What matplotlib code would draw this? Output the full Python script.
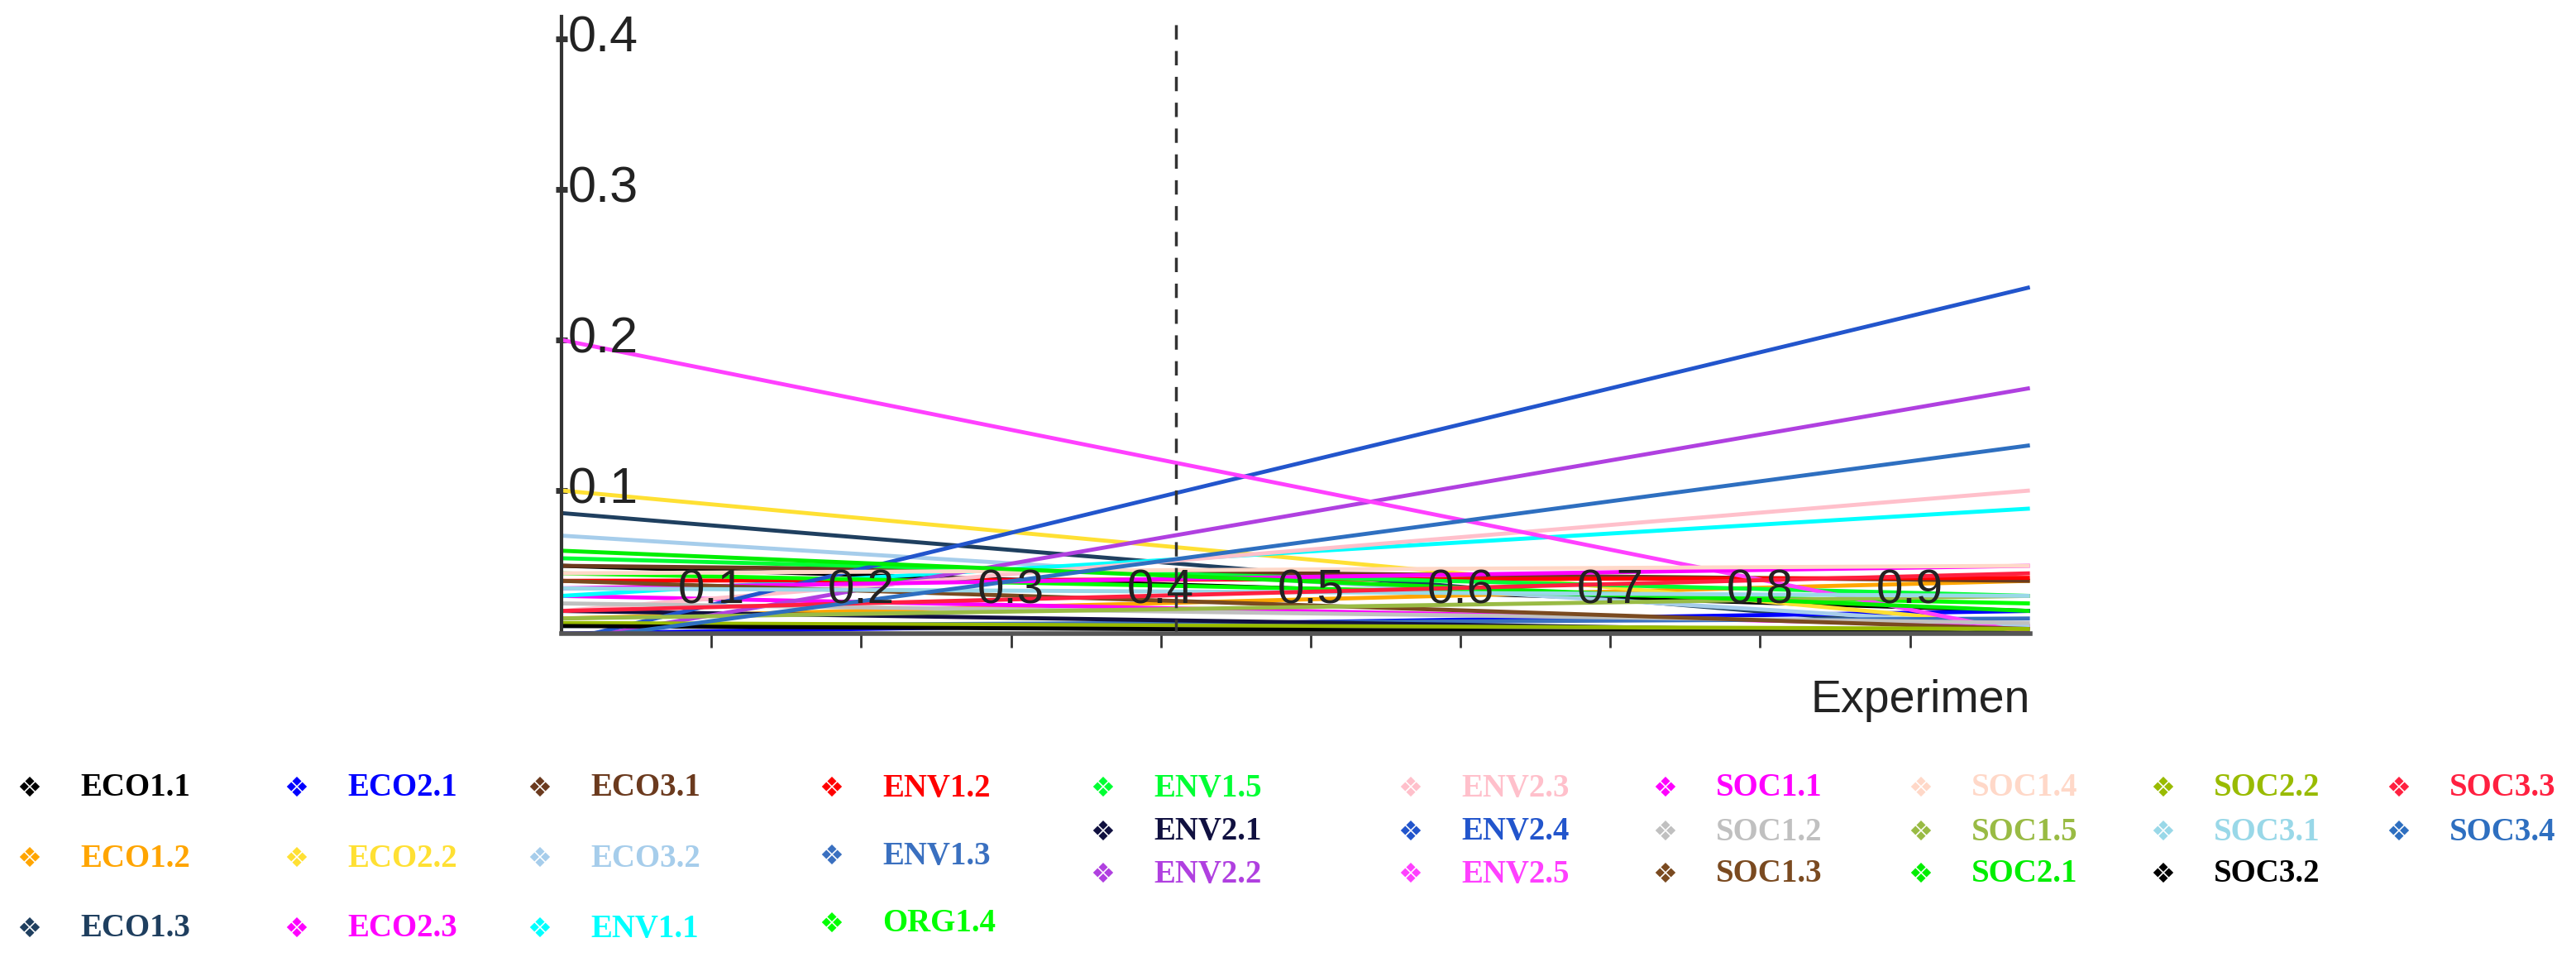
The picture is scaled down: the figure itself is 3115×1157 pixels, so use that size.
import matplotlib
matplotlib.use('Agg')
import matplotlib.pyplot as plt

# series: name, value at x=0, value at x=0.98, colour
names = ['ECO1.1', 'ECO1.2', 'ECO1.3', 'ECO2.1', 'ECO2.2', 'ECO2.3', 'ECO3.1', 'ECO3.2', 'ENV1.1',
         'ENV1.2', 'ENV1.3', 'ORG1.4', 'ENV1.5', 'ENV2.1', 'ENV2.2', 'ENV2.3', 'ENV2.4', 'ENV2.5',
         'SOC1.1', 'SOC1.2', 'SOC1.3', 'SOC1.4', 'SOC1.5', 'SOC2.1', 'SOC2.2', 'SOC3.1', 'SOC3.2',
         'SOC3.3', 'SOC3.4']
start_vals = [0.050, 0.015, 0.085, 0.005, 0.100, 0.030, 0.050, 0.070, 0.030,
              0.040, 0.010, 0.045, 0.055, 0.020, 0.000, 0.020, 0.000, 0.200,
              0.035, 0.025, 0.040, 0.045, 0.015, 0.060, 0.012, 0.035, 0.010,
              0.020, 0.000]
end_vals = [0.020, 0.040, 0.005, 0.020, 0.010, 0.010, 0.040, 0.010, 0.088,
            0.042, 0.015, 0.025, 0.030, 0.005, 0.168, 0.100, 0.235, 0.005,
            0.050, 0.012, 0.008, 0.050, 0.030, 0.020, 0.008, 0.030, 0.005,
            0.045, 0.130]
colors = ['#000000', '#FFA500', '#1F3F5F', '#0000FF', '#FFE033', '#FF00FF', '#6B3A1E', '#A6CDEB', '#00FFFF',
          '#FF0000', '#3A70C0', '#00FF00', '#00FF33', '#101040', '#B040E0', '#FFC0CB', '#2255CC', '#FF40FF',
          '#FF00FF', '#C0C0C0', '#7A4A20', '#FFD8C8', '#99BB44', '#00EE00', '#99BB00', '#99D8E8', '#000000',
          '#FF2040', '#2E6FC0']
x_span = [0.0, 0.98]
x_ticks = [0.1, 0.2, 0.3, 0.4, 0.5, 0.6, 0.7, 0.8, 0.9]
y_ticks = [0.1, 0.2, 0.3, 0.4]
current_x = 0.41

tick_font = ['Liberation Sans Narrow', 'Liberation Sans']

fig = plt.figure(figsize=(31.15, 11.57), dpi=100)
ax = fig.add_axes([0.218, 0.338, 0.570, 0.645])

for n, s, e, c in zip(names, start_vals, end_vals, colors):
    ax.plot(x_span, [s, e], color=c, linewidth=3.5, solid_capstyle='butt')

ax.axvline(current_x, color='#333333', linestyle='--', linewidth=2.5, dashes=(5, 4))

ax.set_xlim(0, 0.98)
ax.set_ylim(0.005, 0.415)
for sp in ['top', 'right']:
    ax.spines[sp].set_visible(False)
ax.spines['left'].set_linewidth(3)
ax.spines['left'].set_color('#333333')
ax.spines['bottom'].set_linewidth(4)
ax.spines['bottom'].set_color('#555555')

ax.set_xticks(x_ticks)
ax.set_xticklabels([])
ax.tick_params(axis='x', direction='out', length=12, width=2, color='#333333')
ax.set_yticks(y_ticks)
ax.set_yticklabels([])
ax.tick_params(axis='y', direction='inout', length=10, width=5, color='#333333')

for t in x_ticks:
    ax.text(t, 0.033, f'{t:.1f}', ha='center', va='center', fontsize=42,
            family=tick_font, color='#222222')
for t in y_ticks:
    ax.text(0.004, t, f'{t:.1f}', ha='left', va='center', fontsize=44,
            family=tick_font, color='#222222')
ax.text(0.98, -0.025, 'Experimen', ha='right', va='top', fontsize=40,
        family=tick_font, color='#222222', clip_on=False)

# legend, laid out in columns as in the original
col_x = [35, 358, 652, 1005, 1333, 1705, 2013, 2322, 2615, 2900]
rows_std = [953, 1038, 1123]
rows_c4 = [953, 1035, 1117]
rows_tight = [953, 1006, 1057]
col_rows = [rows_std, rows_std, rows_std, rows_c4, rows_tight,
            rows_tight, rows_tight, rows_tight, rows_tight, rows_tight]
col_members = [['ECO1.1', 'ECO1.2', 'ECO1.3'], ['ECO2.1', 'ECO2.2', 'ECO2.3'],
               ['ECO3.1', 'ECO3.2', 'ENV1.1'], ['ENV1.2', 'ENV1.3', 'ORG1.4'],
               ['ENV1.5', 'ENV2.1', 'ENV2.2'], ['ENV2.3', 'ENV2.4', 'ENV2.5'],
               ['SOC1.1', 'SOC1.2', 'SOC1.3'], ['SOC1.4', 'SOC1.5', 'SOC2.1'],
               ['SOC2.2', 'SOC3.1', 'SOC3.2'], ['SOC3.3', 'SOC3.4']]
W, H = 3115, 1157
for cx, rows, members in zip(col_x, col_rows, col_members):
    for ry, nm in zip(rows, members):
        c = colors[names.index(nm)]
        fig.text(cx / W, 1 - ry / H, '\u2756', color=c, fontsize=24,
                 ha='center', va='center', family='DejaVu Sans')
        fig.text((cx + 62) / W, 1 - ry / H, nm, color=c, fontsize=28,
                 ha='left', va='center', family='Liberation Serif', fontweight='bold')

fig.savefig('out.png', dpi=100)
